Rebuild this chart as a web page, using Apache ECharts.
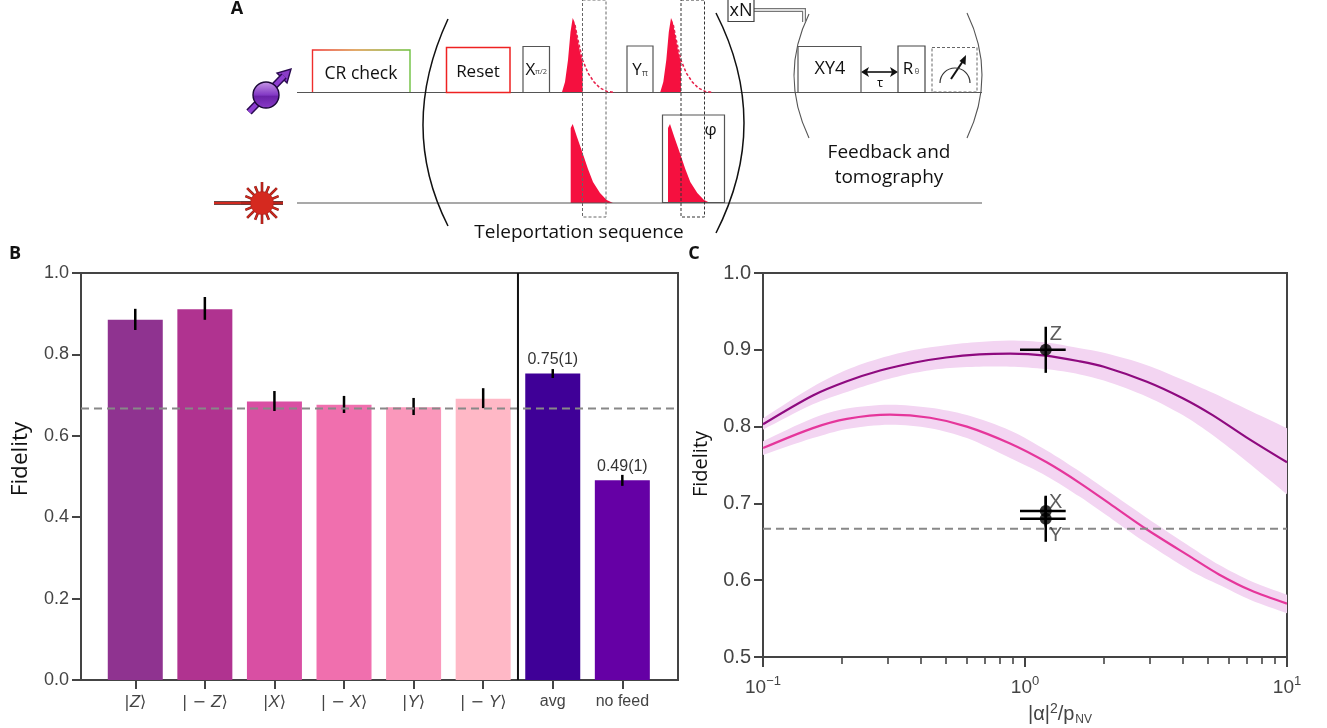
<!DOCTYPE html>
<html><head><meta charset="utf-8">
<style>html,body{margin:0;padding:0;background:#fff}#c{width:1327px;height:728px}</style>
<script src="https://cdn.jsdelivr.net/npm/echarts@6/dist/echarts.min.js"></script>
</head><body><div id="c"></div>
<script>
// ---- Panel B data
const barX = [0,1,2,3,4,5,6,7];
const barValues = [0.885,0.911,0.684,0.676,0.670,0.691,0.753,0.491];
const barErrLow = [0.860,0.885,0.661,0.656,0.651,0.668,0.742,0.477];
const barErrHigh = [0.912,0.941,0.710,0.698,0.693,0.717,0.764,0.504];
const barColors = ['#8f3390','#b03390','#d94fa3','#f06fae','#fa98bb','#ffb8c6','#3f0097','#6500a5'];
const barNotes = ['','','','','','','0.75(1)','0.49(1)'];
const barLabels = ['{r||}{i|Z}{r|⟩}','{r|| − }{i|Z}{r|⟩}','{r||}{i|X}{r|⟩}','{r|| − }{i|X}{r|⟩}','{r||}{i|Y}{r|⟩}','{r|| − }{i|Y}{r|⟩}','{t|avg}','{t|no feed}'];
const classicalLimit = 0.667;
const bXMin = -0.78, bXMax = 7.8, bDivider = 5.5;
// ---- Panel C data
const zX = [0.1,0.155,0.209,0.28,0.38,0.5,0.67,0.877,1.2,1.62,2,2.92,4,5.2,7,10];
const zMean = [0.803,0.8405,0.859,0.873,0.8835,0.890,0.894,0.895,0.8925,0.885,0.878,0.8585,0.837,0.815,0.786,0.7535];
const zHigh = [0.811,0.852,0.874,0.889,0.900,0.906,0.910,0.912,0.9095,0.902,0.896,0.880,0.861,0.844,0.823,0.798];
const zLow = [0.796,0.829,0.845,0.859,0.870,0.876,0.878,0.878,0.875,0.868,0.860,0.839,0.815,0.789,0.755,0.712];
const xyX = [0.1,0.155,0.209,0.305,0.434,0.6,0.877,1.21,1.62,2.17,2.92,4.3,5.5,7.3,10];
const xyMean = [0.772,0.798,0.810,0.8155,0.8115,0.800,0.778,0.7535,0.7265,0.6965,0.666,0.630,0.6075,0.5865,0.5695];
const xyHigh = [0.781,0.811,0.8235,0.8285,0.8245,0.815,0.795,0.769,0.7415,0.7115,0.681,0.643,0.620,0.5985,0.581];
const xyLow = [0.763,0.785,0.797,0.8025,0.798,0.785,0.759,0.7355,0.7085,0.6785,0.648,0.612,0.594,0.574,0.557];
const pointNames = ['Z','X','Y'];
const pointX = [1.2,1.2,1.2];
const pointY = [0.900,0.690,0.680];
const pointXLow = [0.957,0.957,0.957];
const pointXHigh = [1.43,1.43,1.43];
const pointYLow = [0.870,0.670,0.650];
const pointYHigh = [0.930,0.709,0.710];
const minorLogTicks = [0.2,0.3,0.4,0.5,0.6,0.7,0.8,0.9,2,3,4,5,6,7,8,9];

const AXC = '#444', TXT = '#444', SANS = '"Liberation Sans"', BODY = '"Open Sans"';
const G = echarts.graphic;

function line(pts, stroke, lw, dash, z){return {type:'polyline',z:z||5,shape:{points:pts},style:{stroke:stroke,lineWidth:lw||1,lineDash:dash||null,fill:null}};}
function box(x,y,w,h,stroke,lw,dash){return {type:'rect',z:6,shape:{x,y,width:w,height:h},style:{stroke:stroke,lineWidth:lw||1.2,fill:'rgba(0,0,0,0)',lineDash:dash||null}};}
function txt(s,x,y,size,opt){opt=opt||{};return {type:'text',z:8,x,y,style:{text:s,font:(opt.weight||'normal')+' '+size+'px '+(opt.family||BODY),fill:opt.fill||'#111',align:opt.align||'center',verticalAlign:'middle'}};}
function curve(x1,y1,cx,cy,x2,y2,stroke,lw){return {type:'bezierCurve',z:5,shape:{x1,y1,x2,y2,cpx1:cx,cpy1:cy},style:{stroke:stroke,lineWidth:lw,fill:null}};}
function poly(pts,fill,dx,opt){return Object.assign({type:'polygon',z:4,shape:{points:pts.map(p=>[p[0]+dx,p[1]])},style:{fill:fill}},opt||{});}

const RED='#f5103f';
const topPulse=[[562,92],[565,82],[568,60],[570.5,32],[572.7,18],[574.5,22],[577,36],[580,52],[582.6,62],[582.6,92]];
const topTail=[[575,25],[578,40],[582.6,60],[588,73],[594,82],[600,88],[607,91.5],[615,92.5]];
const lowPulse=[[570.7,203],[570.7,128],[572.7,124],[577,137],[582.6,153],[588,169],[593,182],[600,193],[606.7,200],[613,203]];

const schematic=[
  line([[297,92.5],[982,92.5]],'#555',1.2), line([[297,203],[982,203]],'#555',1.2),
  {type:'polyline',z:6,shape:{points:[[312.5,92],[312.5,50],[410,50],[410,92]]},style:{fill:null,lineWidth:1.4,stroke:new G.LinearGradient(0,0,1,0,[{offset:0,color:'#f0282c'},{offset:0.45,color:'#d8903a'},{offset:1,color:'#68c23e'}])}},
  txt('CR check',361,74,17.5),
  box(446.5,47.5,63.5,45,'#ee2222',1.5), txt('Reset',478,72,17),
  box(523,46.5,26.5,46,'#555'), txt('X',530.5,70,17), txt('π/2',541,72,7.5,{fill:'#444'}),
  box(627,46,26,46.5,'#555'), txt('Y',637,70,17), txt('π',645,73,9,{fill:'#444'}),
  poly(topPulse,RED,0), poly(topPulse,RED,98.3),
  line(topTail,'#e8204a',1.5,[3,2]), line(topTail.map(p=>[p[0]+98.3,p[1]]),'#e8204a',1.5,[3,2]),
  poly(lowPulse,RED,0), poly(lowPulse,RED,97.3),
  box(662.5,115,62,87.5,'#555',1.2), txt('φ',710.5,130,17),
  box(582.5,0,23.5,217,'#666',1,[3,2]), box(681,0,23.5,217,'#333',1,[3,2]),
  curve(448,19,398,127,448,226,'#111',1.5), curve(716,13,772,123,716,233,'#111',1.5),
  curve(809,14,779,75,809,138,'#555',1.1), curve(967,13,997,75,967,138,'#555',1.1),
  line([[754,10],[804,10],[804,22]],'#777',4), line([[754,10],[804,10],[804,22]],'#fff',1.6),
  box(728,-2,26,23.5,'#444'), txt('xN',741,11,18),
  box(798,46.5,63,46,'#555'), txt('XY4',830,69,18),
  line([[864,72],[895,72]],'#111',1.6),
  poly([[861,72],[869,67],[867,72],[869,77]],'#111',0), poly([[898,72],[890,67],[892,72],[890,77]],'#111',0),
  txt('τ',880,83,13),
  box(898,46,27,46.5,'#444'), txt('R',908,69,17), txt('θ',917,72,7.5,{fill:'#444'}),
  box(932,47.5,45,44.5,'#666',1,[3,2]),
  {type:'arc',z:6,shape:{cx:955,cy:83,r:15,startAngle:Math.PI,endAngle:2*Math.PI},style:{stroke:'#333',lineWidth:1.2,fill:null}},
  line([[951,79],[963,61]],'#111',2),
  poly([[966,55],[965.5,65],[959.5,61]],'#111',0),
  txt('Feedback and',889,153,19), txt('tomography',889,178,19), txt('Teleportation sequence',579,233,19),
  txt('A',237,9,18,{weight:'bold'}), txt('B',15,254,18,{weight:'bold'}), txt('C',694,254,18,{weight:'bold'}),
  // spin icon
  line([[249,112],[284,76]],'#2a0a50',7.5), line([[249,112],[284,76]],'#8d3ed0',4.5),
  poly([[291,69],[287,83],[277,73]],'#8a3cc8',0,{style:{fill:'#8a3cc8',stroke:'#2a0a50',lineWidth:1.4}}),
  {type:'circle',z:6,shape:{cx:266,cy:95,r:13},style:{stroke:'#1a0836',lineWidth:1.4,fill:new G.LinearGradient(0,0,0,1,[{offset:0,color:'#c99ae8'},{offset:0.5,color:'#8238c4'},{offset:0.55,color:'#6a22a8'},{offset:1,color:'#8a3cc8'}])}},
  // laser icon
  line([[214,203],[283,203]],'#3a0a08',3.4), line([[214,203],[283,203]],'#d22a20',1.8)
];
schematic.push(Object.assign(txt('Fidelity',21,459,22.5),{rotation:Math.PI/2}));
schematic.push(Object.assign(txt('Fidelity',701,464,20),{rotation:Math.PI/2}));
for(let k=0;k<16;k++){const a=k*Math.PI/8,r=k%2?18:21;
  schematic.push(line([[262,203],[262+r*Math.cos(a),203+r*Math.sin(a)]],'#7a1a14',2.6));
  schematic.push(line([[262,203],[262+r*Math.cos(a),203+r*Math.sin(a)]],'#d5291f',1.4));}
schematic.push({type:'circle',z:6,shape:{cx:262,cy:203,r:11.5},style:{fill:'#d5291f',stroke:'#a8201a',lineWidth:0.5}});

function errBar(params, api){
  const x=api.value(0), a=api.coord([x,api.value(1)]), b=api.coord([x,api.value(2)]);
  return {type:'line',shape:{x1:a[0],y1:a[1],x2:b[0],y2:b[1]},style:{stroke:'#000',lineWidth:2.5}};
}
function reach(a,b){return [a[0]*2-b[0],a[1]*2-b[1]];}
function bandRender(xs,hi,lo,color){
  return function(params, api){
    const top=xs.map((x,i)=>api.coord([x,hi[i]]));
    const bot=xs.map((x,i)=>api.coord([x,lo[i]])).reverse();
    const n=xs.length-1;
    // continue each edge past the plot frame so the rounded polygon corners fall in the clipped area
    const pts=[reach(top[0],top[1])].concat(top,[reach(top[n],top[n-1]),reach(bot[0],bot[1])],bot,[reach(bot[n],bot[n-1])]);
    return {type:'polygon',shape:{points:pts,smooth:0.3},style:{fill:color}};
  };
}
function crossRender(params, api){
  const i=api.value(0), y=pointY[i], x=pointX[i];
  const a=api.coord([pointXLow[i],y]),b=api.coord([pointXHigh[i],y]),c=api.coord([x,pointYLow[i]]),d=api.coord([x,pointYHigh[i]]);
  return {type:'group',children:[
    {type:'line',shape:{x1:a[0],y1:a[1],x2:b[0],y2:b[1]},style:{stroke:'#000',lineWidth:2.5}},
    {type:'line',shape:{x1:c[0],y1:c[1],x2:d[0],y2:d[1]},style:{stroke:'#000',lineWidth:2.5}}
  ]};
}
const pts=(xs,ys)=>xs.map((x,i)=>[x,ys[i]]);
const labelOffsets={Z:[10,-15],X:[10,-9],Y:[10,17]};

const option={
  animation:false,backgroundColor:'#fff',
  graphic:{elements:schematic},
  grid:[
    {left:81,right:1327-678,top:273,height:407,outerBoundsMode:'none',show:true,borderColor:AXC,borderWidth:2,backgroundColor:'transparent'},
    {left:763,right:1327-1287,top:273,height:384,outerBoundsMode:'none',show:true,borderColor:AXC,borderWidth:2,backgroundColor:'transparent'}
  ],
  xAxis:[
    {type:'value',gridIndex:0,min:bXMin,max:bXMax,splitLine:{show:false},axisLine:{onZero:false,lineStyle:{color:AXC,width:2}},
     axisTick:{customValues:barX,length:9,lineStyle:{color:AXC,width:2}},
     axisLabel:{customValues:barX,margin:14,color:TXT,formatter:v=>barLabels[v],rich:{
        r:{fontFamily:'"DejaVu Sans"',fontSize:16,color:TXT},i:{fontFamily:SANS,fontStyle:'italic',fontSize:17,color:TXT},t:{fontFamily:SANS,fontSize:16,color:TXT}}}},
    {type:'log',gridIndex:1,min:0.1,max:10,logBase:10,position:'bottom',splitLine:{show:false},
     axisLine:{onZero:false,lineStyle:{color:AXC,width:2}},axisTick:{length:10,lineStyle:{color:AXC,width:2}},minorTick:{show:false},
     axisLabel:{margin:18,showMinLabel:true,showMaxLabel:true,formatter:v=>{const e=Math.round(Math.log10(v));return '{b|10}{s|'+(e<0?'−':'')+Math.abs(e)+'}';},
       rich:{b:{fontFamily:SANS,fontSize:19,color:TXT},s:{fontFamily:SANS,fontSize:13,color:TXT,padding:[0,0,13,0]}}},
     name:'{a||α|}{u|2}{a|/p}{d|NV}',nameLocation:'middle',nameGap:36,
     nameTextStyle:{padding:[0,0,0,70],rich:{a:{fontFamily:SANS,fontSize:20,color:TXT},u:{fontFamily:SANS,fontSize:14,color:TXT,padding:[0,0,11,0]},d:{fontFamily:SANS,fontSize:12,color:TXT,padding:[10,0,0,1]}}}},
    {type:'log',gridIndex:1,min:0.1,max:10,logBase:10,position:'bottom',splitLine:{show:false},
     axisLine:{show:false,onZero:false},axisLabel:{show:false},
     axisTick:{length:7,customValues:minorLogTicks,lineStyle:{color:AXC,width:1.6}}}
  ],
  yAxis:[
    {type:'value',gridIndex:0,min:0,max:1,interval:0.2,splitLine:{show:false},axisLine:{show:true,onZero:false,lineStyle:{color:AXC,width:2}},
     axisTick:{show:true,length:9,lineStyle:{color:AXC,width:2}},axisLabel:{margin:12,color:TXT,fontFamily:SANS,fontSize:18,formatter:v=>v.toFixed(1)}},
    {type:'value',gridIndex:1,min:0.5,max:1,interval:0.1,splitLine:{show:false},axisLine:{show:true,onZero:false,lineStyle:{color:AXC,width:2}},
     axisTick:{show:true,length:9,lineStyle:{color:AXC,width:2}},axisLabel:{margin:12,color:TXT,fontFamily:SANS,fontSize:20,formatter:v=>v.toFixed(1)}}
  ],
  series:[
    {type:'bar',xAxisIndex:0,yAxisIndex:0,barWidth:55,
     data:barX.map((x,i)=>({value:[x,barValues[i]],itemStyle:{color:barColors[i]},
       label:{show:!!barNotes[i],position:'top',distance:6,formatter:barNotes[i],fontFamily:SANS,fontSize:16,color:'#333'}}))},
    {type:'custom',xAxisIndex:0,yAxisIndex:0,z:3,renderItem:errBar,encode:{x:0,y:[1,2]},silent:true,
     data:barX.map((x,i)=>[x,barErrLow[i],barErrHigh[i]])},
    {type:'line',xAxisIndex:0,yAxisIndex:0,z:4,showSymbol:false,silent:true,data:[[bXMin,classicalLimit],[bXMax,classicalLimit]],lineStyle:{color:'#888',width:2,type:[8,5]}},
    {type:'line',xAxisIndex:0,yAxisIndex:0,z:4,showSymbol:false,silent:true,data:[[bDivider,0],[bDivider,1]],lineStyle:{color:'#111',width:2}},

    {type:'custom',xAxisIndex:1,yAxisIndex:1,z:1,silent:true,clip:true,renderItem:bandRender(zX,zHigh,zLow,'#f3d5f2'),data:[[1,0.8]],encode:{x:0,y:1}},
    {type:'custom',xAxisIndex:1,yAxisIndex:1,z:1,silent:true,clip:true,renderItem:bandRender(xyX,xyHigh,xyLow,'#f3d5f2'),data:[[1,0.7]],encode:{x:0,y:1}},
    {type:'line',xAxisIndex:1,yAxisIndex:1,z:2,smooth:0.3,showSymbol:false,data:pts(zX,zMean),lineStyle:{color:'#8e0a7f',width:2.2}},
    {type:'line',xAxisIndex:1,yAxisIndex:1,z:2,smooth:0.3,showSymbol:false,data:pts(xyX,xyMean),lineStyle:{color:'#e5369b',width:2.2}},
    {type:'line',xAxisIndex:1,yAxisIndex:1,z:3,showSymbol:false,silent:true,data:[[0.1,classicalLimit],[10,classicalLimit]],lineStyle:{color:'#888',width:2,type:[8,5]}},
    {type:'custom',xAxisIndex:1,yAxisIndex:1,z:4,silent:true,renderItem:crossRender,data:pointNames.map((n,i)=>[i]),encode:{}},
    {type:'scatter',xAxisIndex:1,yAxisIndex:1,z:5,symbolSize:12,itemStyle:{color:'#000'},
     data:pointNames.map((n,i)=>({value:[pointX[i],pointY[i]],label:{show:true,position:'inside',offset:labelOffsets[n],formatter:n,fontFamily:SANS,fontSize:20,color:'#333'}}))}
  ]
};
const chart=echarts.init(document.getElementById('c'));
chart.setOption(option);
</script></body></html>
